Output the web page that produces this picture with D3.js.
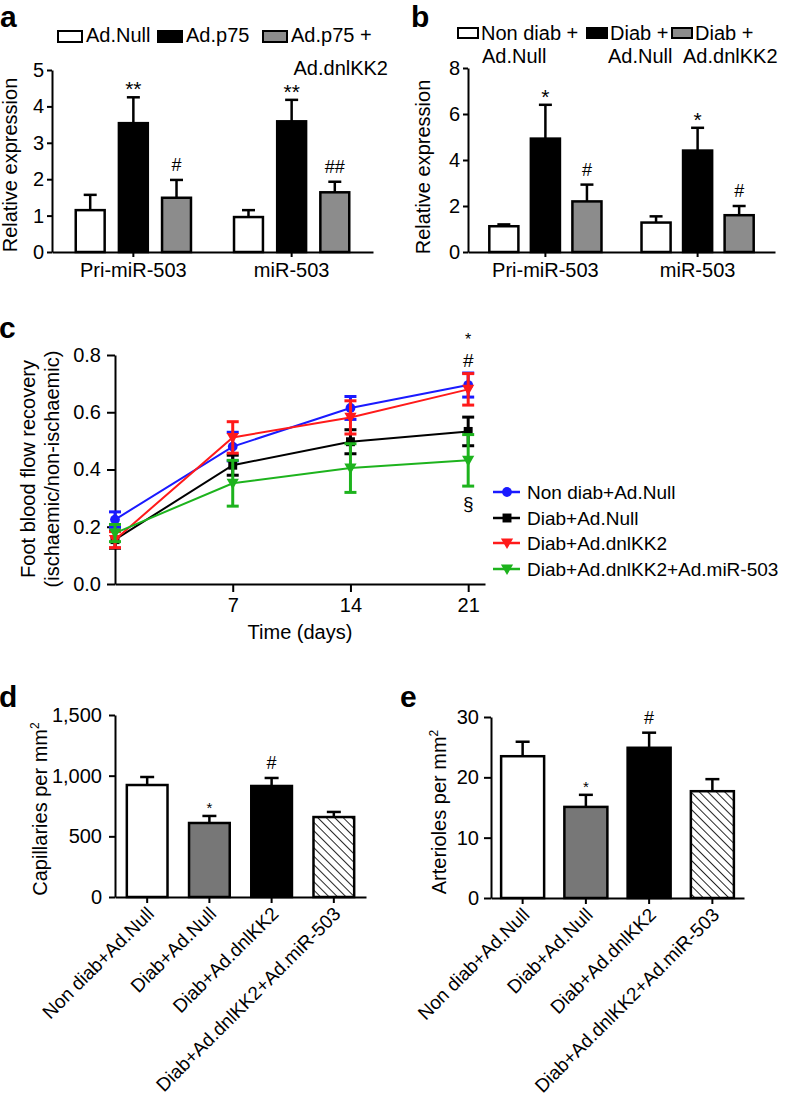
<!DOCTYPE html>
<html><head><meta charset="utf-8">
<script src="https://cdn.jsdelivr.net/npm/d3@7"></script>
<style>
body{margin:0;background:#fff}
text{font-family:"Liberation Sans",Arial,Helvetica,sans-serif;fill:#000}
</style>
</head><body>
<svg id="fig" width="788" height="1100" xmlns="http://www.w3.org/2000/svg"></svg>
<script>
// ---------- Panel a ----------
const aGroups = ["Pri-miR-503", "miR-503"];
const aSeries = ["Ad.Null", "Ad.p75", "Ad.p75 + Ad.dnlKK2"];
const aMean = [[1.15, 3.54, 1.49], [0.96, 3.59, 1.64]];
const aErr  = [[0.42, 0.71, 0.49], [0.19, 0.59, 0.29]];
const aSig  = [["", "**", "#"], ["", "**", "##"]];
const aTicks = [0, 1, 2, 3, 4, 5];

// ---------- Panel b ----------
const bGroups = ["Pri-miR-503", "miR-503"];
const bSeries = ["Non diab + Ad.Null", "Diab + Ad.Null", "Diab + Ad.dnlKK2"];
const bMean = [[1.12, 4.93, 2.20], [1.28, 4.41, 1.60]];
const bErr  = [[0.08, 1.47, 0.73], [0.27, 0.99, 0.40]];
const bSig  = [["", "*", "#"], ["", "*", "#"]];
const bTicks = [0, 2, 4, 6, 8];

// ---------- Panel c ----------
const cDays = [0, 7, 14, 21];
const cSeries = ["Non diab+Ad.Null", "Diab+Ad.Null", "Diab+Ad.dnlKK2", "Diab+Ad.dnlKK2+Ad.miR-503"];
const cMean = [
  [0.225, 0.480, 0.615, 0.695],
  [0.155, 0.415, 0.497, 0.533],
  [0.155, 0.512, 0.582, 0.680],
  [0.178, 0.352, 0.405, 0.432]
];
const cErr = [
  [0.027, 0.050, 0.040, 0.042],
  [0.030, 0.035, 0.042, 0.050],
  [0.028, 0.055, 0.058, 0.055],
  [0.030, 0.080, 0.085, 0.090]
];
const cTicksY = [0, 0.2, 0.4, 0.6, 0.8];
const cTicksX = [7, 14, 21];

// ---------- Panels d / e ----------
const deCats = ["Non diab+Ad.Null", "Diab+Ad.Null", "Diab+Ad.dnlKK2", "Diab+Ad.dnlKK2+Ad.miR-503"];
const dMean = [923, 610, 915, 659];
const dErr  = [66, 58, 66, 42];
const dSig  = ["", "*", "#", ""];
const dTicks = [0, 500, 1000, 1500];
const eMean = [23.5, 15.1, 24.9, 17.7];
const eErr  = [2.4, 2.0, 2.5, 2.0];
const eSig  = ["", "*", "#", ""];
const eTicks = [0, 10, 20, 30];

// ================= drawing =================
const svg = d3.select("#fig");
const FONT = 20;
const defs = svg.append("defs");
const pat = defs.append("pattern").attr("id", "hatch").attr("patternUnits", "userSpaceOnUse")
  .attr("width", 6).attr("height", 6).attr("patternTransform", "rotate(-45)");
pat.append("rect").attr("width", 6).attr("height", 6).attr("fill", "#fff");
pat.append("line").attr("x1", 0).attr("y1", 0).attr("x2", 0).attr("y2", 6)
  .attr("stroke", "#000").attr("stroke-width", 1.7);

function styleAxis(g, fs) {
  g.selectAll("path.domain").attr("stroke", "#000").attr("stroke-width", 2);
  g.selectAll(".tick line").attr("stroke", "#000").attr("stroke-width", 2);
  g.selectAll("text").attr("font-size", fs).style("fill", "#000");
  g.attr("font-family", null);
}

function panelLetter(t, x, y) {
  svg.append("text").attr("x", x).attr("y", y).attr("font-size", 30)
    .attr("font-weight", "bold").text(t);
}

// ---- grouped bar chart (a, b) ----
function groupedBars(o) {
  const g = svg.append("g");
  const y = d3.scaleLinear().domain(o.yDomain).range(o.yRange);
  const x0 = d3.scaleBand().domain(o.groups).range(o.xRange)
    .paddingInner(o.pInner).paddingOuter(o.pOuter);
  const x1 = d3.scaleBand().domain(o.series).range([0, x0.bandwidth()]).paddingInner(o.p1);
  const fills = ["#fff", "#000", "#8c8c8c"];

  o.groups.forEach((grp, gi) => {
    o.series.forEach((s, si) => {
      const bx = x0(grp) + x1(s), bw = x1.bandwidth();
      const m = o.mean[gi][si], e = o.err[gi][si];
      const cx = bx + bw / 2;
      g.append("line").attr("x1", cx).attr("x2", cx).attr("y1", y(m)).attr("y2", y(m + e))
        .attr("stroke", "#000").attr("stroke-width", 2.5);
      g.append("line").attr("x1", cx - 6.5).attr("x2", cx + 6.5).attr("y1", y(m + e)).attr("y2", y(m + e))
        .attr("stroke", "#000").attr("stroke-width", 2.5);
      g.append("rect").attr("x", bx).attr("y", y(m)).attr("width", bw).attr("height", y(0) - y(m))
        .attr("fill", fills[si]).attr("stroke", "#000").attr("stroke-width", 2.5);
      const sig = o.sig[gi][si];
      if (sig) {
        const isStar = sig.indexOf("*") >= 0;
        g.append("text").attr("x", cx).attr("y", y(m + e) - (isStar ? 1 : 9))
          .attr("text-anchor", "middle").attr("font-size", isStar ? 21 : 18).text(sig);
      }
    });
  });

  const ay = g.append("g").attr("transform", `translate(${o.xRange[0]},0)`)
    .call(d3.axisLeft(y).tickValues(o.ticks).tickFormat(d3.format("d")).tickSize(o.tickSize).tickSizeOuter(0).tickPadding(o.tickPad));
  styleAxis(ay, FONT);
  const ax = g.append("g").attr("transform", `translate(0,${o.yRange[0]})`)
    .call(d3.axisBottom(x0).tickSize(5).tickSizeOuter(0).tickPadding(6));
  styleAxis(ax, FONT);
  return g;
}

// ---- panel a ----
panelLetter("a", 0, 27);
groupedBars({
  groups: aGroups, series: aSeries, mean: aMean, err: aErr, sig: aSig, ticks: aTicks,
  yDomain: [0, 5], yRange: [252, 70], xRange: [52, 373], pInner: 0.272, pOuter: 0.15, p1: 0.33,
  tickSize: 5, tickPad: 3
});
svg.append("text").attr("transform", "translate(17,165) rotate(-90)").attr("text-anchor", "middle")
  .attr("font-size", FONT).text("Relative expression");
// legend a
{
  const fills = ["#fff", "#000", "#8c8c8c"];
  const lx = [58, 158, 263];
  const lt = ["Ad.Null", "Ad.p75", "Ad.p75 +"];
  aSeries.forEach((s, i) => {
    svg.append("rect").attr("x", lx[i]).attr("y", 31).attr("width", 24).attr("height", 11)
      .attr("fill", fills[i]).attr("stroke", "#000").attr("stroke-width", 2);
    svg.append("text").attr("x", lx[i] + 28).attr("y", 42).attr("font-size", FONT).text(lt[i]);
  });
  svg.append("text").attr("x", 388).attr("y", 75).attr("text-anchor", "end").attr("font-size", FONT).text("Ad.dnlKK2");
}

// ---- panel b ----
panelLetter("b", 411, 27);
groupedBars({
  groups: bGroups, series: bSeries, mean: bMean, err: bErr, sig: bSig, ticks: bTicks,
  yDomain: [0, 8], yRange: [252, 68], xRange: [468, 775], pInner: 0.263, pOuter: 0.14, p1: 0.3,
  tickSize: 5, tickPad: 3
});
svg.append("text").attr("transform", "translate(430,167) rotate(-90)").attr("text-anchor", "middle")
  .attr("font-size", FONT).text("Relative expression");
{
  const fills = ["#fff", "#000", "#8c8c8c"];
  const bx = [458, 587, 672];
  const t1 = ["Non diab +", "Diab +", "Diab +"];
  const t1x = [481, 610, 695];
  const t2 = ["Ad.Null", "Ad.Null", "Ad.dnlKK2"];
  const t2x = [482, 608, 683];
  bSeries.forEach((s, i) => {
    svg.append("rect").attr("x", bx[i]).attr("y", 28).attr("width", 20).attr("height", 10)
      .attr("fill", fills[i]).attr("stroke", "#000").attr("stroke-width", 2);
    svg.append("text").attr("x", t1x[i]).attr("y", 40).attr("font-size", FONT).text(t1[i]);
    svg.append("text").attr("x", t2x[i]).attr("y", 63).attr("font-size", FONT).text(t2[i]);
  });
}

// ---- panel c ----
panelLetter("c", -1, 338);
{
  const g = svg.append("g");
  const x = d3.scaleLinear().domain([0, 22]).range([115, 485]);
  const y = d3.scaleLinear().domain([0, 0.8]).range([584, 355]);
  const colors = ["#1a1aff", "#000000", "#ff1a1a", "#1db31d"];
  const shapes = [d3.symbolCircle, d3.symbolSquare, d3.symbolTriangle, d3.symbolTriangle];
  const sizes = [75, 80, 65, 65];
  const rots = [0, 0, 180, 180];

  const ay = g.append("g").attr("transform", "translate(115,0)")
    .call(d3.axisLeft(y).tickValues(cTicksY).tickFormat(d3.format(".1f")).tickSize(8).tickSizeOuter(0).tickPadding(6));
  styleAxis(ay, FONT);
  const ax = g.append("g").attr("transform", "translate(0,584)")
    .call(d3.axisBottom(x).tickValues(cTicksX).tickSize(8).tickSizeOuter(0).tickPadding(6));
  styleAxis(ax, FONT);

  const line = d3.line().x(d => x(d[0])).y(d => y(d[1]));
  cSeries.forEach((s, si) => {
    const pts = cDays.map((d, i) => [d, cMean[si][i], cErr[si][i]]);
    const sg = g.append("g");
    pts.forEach(p => {
      const cx = x(p[0]);
      sg.append("line").attr("x1", cx).attr("x2", cx).attr("y1", y(p[1] - p[2])).attr("y2", y(p[1] + p[2]))
        .attr("stroke", colors[si]).attr("stroke-width", 3);
      [p[1] - p[2], p[1] + p[2]].forEach(v => {
        sg.append("line").attr("x1", cx - 6).attr("x2", cx + 6).attr("y1", y(v)).attr("y2", y(v))
          .attr("stroke", colors[si]).attr("stroke-width", 3);
      });
    });
    sg.append("path").datum(pts).attr("d", line).attr("fill", "none")
      .attr("stroke", colors[si]).attr("stroke-width", 2);
    pts.forEach(p => {
      sg.append("path").attr("d", d3.symbol().type(shapes[si]).size(sizes[si])())
        .attr("transform", `translate(${x(p[0])},${y(p[1]) + (rots[si] ? -1 : 0)}) rotate(${rots[si]})`)
        .attr("fill", colors[si]);
    });
  });

  // annotations at day 21
  g.append("text").attr("x", x(21)).attr("y", 345).attr("text-anchor", "middle").attr("font-size", 16).text("*");
  g.append("text").attr("x", x(21)).attr("y", 367).attr("text-anchor", "middle").attr("font-size", 19).text("#");
  g.append("text").attr("x", x(21)).attr("y", 510).attr("text-anchor", "middle").attr("font-size", 19).text("§");

  // axis titles
  g.append("text").attr("x", 300).attr("y", 639).attr("text-anchor", "middle").attr("font-size", FONT).text("Time (days)");
  const yt = g.append("text").attr("transform", "translate(0,469) rotate(-90)").attr("text-anchor", "middle")
    .attr("font-size", FONT);
  yt.append("tspan").attr("x", 0).attr("y", 35).text("Foot blood flow recovery");
  yt.append("tspan").attr("x", 0).attr("y", 59).text("(ischaemic/non-ischaemic)");

  // legend
  const ly = [492, 518, 543, 569];
  cSeries.forEach((s, si) => {
    g.append("line").attr("x1", 493).attr("x2", 520).attr("y1", ly[si]).attr("y2", ly[si])
      .attr("stroke", colors[si]).attr("stroke-width", 2.5);
    g.append("path").attr("d", d3.symbol().type(shapes[si]).size(sizes[si])())
      .attr("transform", `translate(507,${ly[si] + (rots[si] ? -1 : 0)}) rotate(${rots[si]})`)
      .attr("fill", colors[si]);
    g.append("text").attr("x", 527).attr("y", ly[si] + 7).attr("font-size", 19).text(s);
  });
}

// ---- panels d / e ----
function simpleBars(o) {
  const g = svg.append("g");
  const y = d3.scaleLinear().domain(o.yDomain).range(o.yRange);
  const x = d3.scaleBand().domain(deCats).range(o.xRange).paddingInner(o.pInner).paddingOuter(o.pOuter);
  const fills = ["#fff", "#777777", "#000", "url(#hatch)"];
  deCats.forEach((c, i) => {
    const bx = x(c), bw = x.bandwidth(), cx = bx + bw / 2;
    const m = o.mean[i], e = o.err[i];
    g.append("line").attr("x1", cx).attr("x2", cx).attr("y1", y(m)).attr("y2", y(m + e))
      .attr("stroke", "#000").attr("stroke-width", 2.5);
    g.append("line").attr("x1", cx - 7).attr("x2", cx + 7).attr("y1", y(m + e)).attr("y2", y(m + e))
      .attr("stroke", "#000").attr("stroke-width", 2.5);
    g.append("rect").attr("x", bx).attr("y", y(m)).attr("width", bw).attr("height", y(0) - y(m))
      .attr("fill", fills[i]).attr("stroke", "#000").attr("stroke-width", 2.5);
    const sig = o.sig[i];
    if (sig) {
      const isStar = sig === "*";
      g.append("text").attr("x", cx).attr("y", y(m + e) - (isStar ? 3 : 9)).attr("text-anchor", "middle")
        .attr("font-size", isStar ? 15 : 18).text(sig);
    }
  });
  const ay = g.append("g").attr("transform", `translate(${o.xRange[0]},0)`)
    .call(d3.axisLeft(y).tickValues(o.ticks).tickFormat(o.fmt).tickSize(o.tickSize).tickSizeOuter(0).tickPadding(o.tickPad));
  styleAxis(ay, FONT);
  const ax = g.append("g").attr("transform", `translate(0,${o.yRange[0]})`)
    .call(d3.axisBottom(x).tickSize(6).tickSizeOuter(0));
  styleAxis(ax, 19);
  ax.selectAll(".tick text").attr("x", 0).attr("y", 0).attr("dy", 0)
    .attr("text-anchor", "end").attr("transform", "translate(8,18) rotate(-45)");
  // y title with superscript
  const t = svg.append("text").attr("transform", `translate(${o.titleX},${o.titleY}) rotate(-90)`)
    .attr("text-anchor", "middle").attr("font-size", FONT);
  t.append("tspan").text(o.title);
  t.append("tspan").attr("font-size", 12).attr("dy", -8).text("2");
}

panelLetter("d", -1, 707);
simpleBars({
  mean: dMean, err: dErr, sig: dSig, ticks: dTicks, fmt: d3.format(","),
  yDomain: [0, 1500], yRange: [897, 715], xRange: [115, 366], pInner: 0.346, pOuter: 0.19,
  tickSize: 6, tickPad: 7, title: "Capillaries per mm", titleX: 47, titleY: 809
});

panelLetter("e", 400, 707);
simpleBars({
  mean: eMean, err: eErr, sig: eSig, ticks: eTicks, fmt: d3.format("d"),
  yDomain: [0, 30], yRange: [898, 717], xRange: [491, 744], pInner: 0.32, pOuter: 0.16,
  tickSize: 7, tickPad: 5, title: "Arterioles per mm", titleX: 446, titleY: 812
});
</script>
</body></html>
